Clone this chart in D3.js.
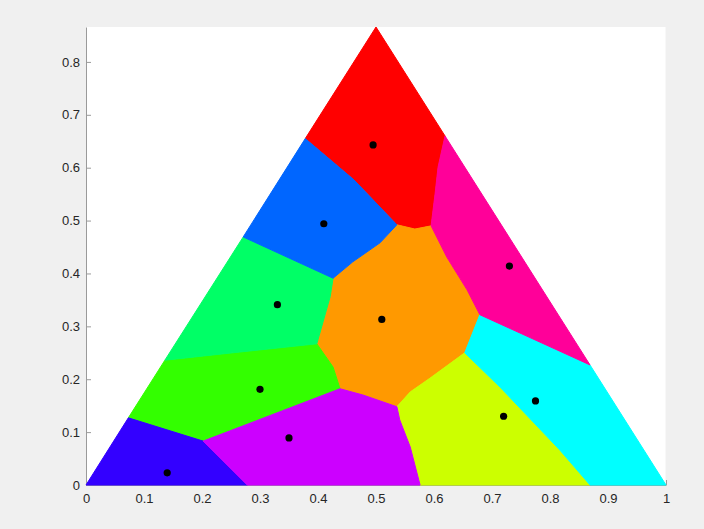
<!DOCTYPE html>
<html>
<head>
<meta charset="utf-8">
<script src="https://cdn.jsdelivr.net/npm/d3@7"></script>
<style>
  html, body { margin: 0; padding: 0; background: #f0f0f0; }
  svg { display: block; }
  text { font-family: "Liberation Sans", Arial, Helvetica, sans-serif; }
</style>
</head>
<body>
<svg id="chart" width="704" height="529"></svg>
<script>
// Cluster colours (hsv colormap, 10 steps)
const clusterColors = ["#ff0000", "#ff9900", "#ccff00", "#33ff00", "#00ff66",
                       "#00ffff", "#0066ff", "#3300ff", "#cc00ff", "#ff0099"];

// Cluster centres
const centerX = [0.495, 0.510, 0.720, 0.300, 0.330, 0.775, 0.410, 0.140, 0.350, 0.730];
const centerY = [0.643, 0.313, 0.130, 0.181, 0.341, 0.159, 0.494, 0.023, 0.089, 0.414];

// Cell outlines of the clustered points inside the triangle (data units)
const redCell    = [[0.378,0.655],[0.5,0.866],[0.619,0.660],[0.607,0.601],[0.602,0.552],
                    [0.595,0.490],[0.567,0.484],[0.536,0.492],[0.462,0.577]];
const orangeCell = [[0.536,0.492],[0.567,0.484],[0.595,0.490],[0.622,0.431],[0.657,0.369],
                    [0.679,0.322],[0.653,0.250],[0.593,0.202],[0.559,0.176],[0.536,0.148],
                    [0.478,0.170],[0.438,0.182],[0.426,0.223],[0.398,0.267],[0.421,0.356],
                    [0.426,0.391],[0.460,0.422],[0.507,0.458]];
const yellowCell = [[0.536,0.148],[0.559,0.176],[0.593,0.202],[0.653,0.250],[0.714,0.185],
                    [0.817,0.066],[0.869,0],[0.576,0],[0.559,0.072],[0.541,0.123]];
const limeCell   = [[0.136,0.236],[0.253,0.250],[0.398,0.267],[0.426,0.223],[0.438,0.182],
                    [0.202,0.083],[0.073,0.127]];
const greenCell  = [[0.271,0.469],[0.426,0.391],[0.421,0.356],[0.398,0.267],[0.253,0.250],
                    [0.136,0.236]];
const cyanCell   = [[0.679,0.322],[0.869,0.227],[1,0],[0.869,0],[0.817,0.066],
                    [0.714,0.185],[0.653,0.250]];
const blueCell   = [[0.378,0.655],[0.462,0.577],[0.536,0.492],[0.507,0.458],[0.460,0.422],
                    [0.426,0.391],[0.271,0.469]];
const violetCell = [[0.073,0.127],[0.202,0.083],[0.278,0],[0,0]];
const purpleCell = [[0.202,0.083],[0.438,0.182],[0.478,0.170],[0.536,0.148],[0.541,0.123],
                    [0.559,0.072],[0.576,0],[0.278,0]];
const pinkCell   = [[0.619,0.660],[0.869,0.227],[0.679,0.322],[0.657,0.369],[0.622,0.431],
                    [0.595,0.490],[0.602,0.552],[0.607,0.601]];

const cells = [redCell, orangeCell, yellowCell, limeCell, greenCell,
               cyanCell, blueCell, violetCell, purpleCell, pinkCell];

// Axis ticks
const xTicks = [0, 0.1, 0.2, 0.3, 0.4, 0.5, 0.6, 0.7, 0.8, 0.9, 1];
const yTicks = [0, 0.1, 0.2, 0.3, 0.4, 0.5, 0.6, 0.7, 0.8];
const yMax = Math.sqrt(3) / 2;

const svg = d3.select("#chart");
const plotLeft = 86, plotRight = 666, plotTop = 27, plotBottom = 485;

const x = d3.scaleLinear().domain([0, 1]).range([plotLeft, plotRight]);
const y = d3.scaleLinear().domain([0, yMax]).range([plotBottom, plotTop]);

// white axes background
svg.append("rect")
  .attr("x", plotLeft).attr("y", plotTop)
  .attr("width", plotRight - plotLeft - 0.5).attr("height", plotBottom - plotTop)
  .attr("fill", "#ffffff");

const axisColor = "#262626";
const tickFont = 13;

// x axis (ticks drawn inward)
const xAxis = d3.axisBottom(x).tickValues(xTicks).tickSizeInner(-5).tickSizeOuter(0)
  .tickPadding(9).tickFormat(d => d3.format("")(d));
const gx = svg.append("g").attr("transform", `translate(0,${plotBottom})`).call(xAxis);

// y axis
const yAxis = d3.axisLeft(y).tickValues(yTicks).tickSizeInner(-5).tickSizeOuter(0)
  .tickPadding(6).tickFormat(d => d3.format("")(d));
const gy = svg.append("g").attr("transform", `translate(${plotLeft},0)`).call(yAxis);

[gx, gy].forEach(g => {
  g.select(".domain").attr("stroke", "#9a9a9a").attr("stroke-width", 1);
  g.selectAll(".tick line").attr("stroke", "#9a9a9a");
  g.selectAll(".tick text")
    .attr("fill", axisColor)
    .attr("font-size", tickFont)
    .attr("font-family", "'Liberation Sans', Arial, Helvetica, sans-serif");
});

// clustered regions
const outline = d3.line().x(d => x(d[0])).y(d => y(d[1])).curve(d3.curveLinearClosed);
svg.append("g")
  .selectAll("path")
  .data(cells)
  .join("path")
  .attr("d", d => outline(d))
  .attr("fill", (d, i) => clusterColors[i])
  .attr("stroke", (d, i) => clusterColors[i])
  .attr("stroke-width", 1)
  .attr("stroke-linejoin", "round");

// cluster centres
svg.append("g")
  .selectAll("circle")
  .data(centerX.map((cx, i) => [cx, centerY[i]]))
  .join("circle")
  .attr("cx", d => x(d[0]))
  .attr("cy", d => y(d[1]))
  .attr("r", 3.6)
  .attr("fill", "#000000");
</script>
</body>
</html>
